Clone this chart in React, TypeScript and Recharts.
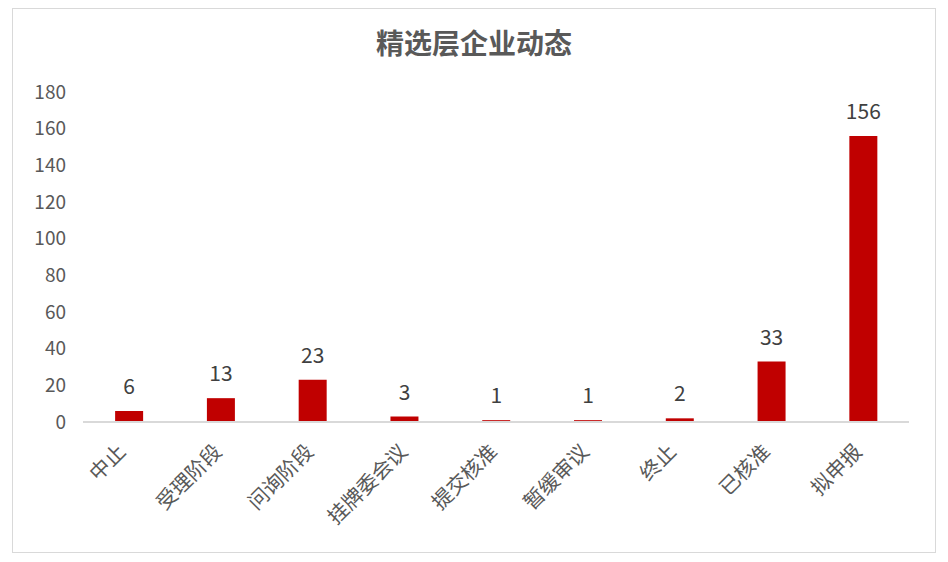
import React from 'react'
import { BarChart, Bar, XAxis, YAxis, LabelList } from 'recharts'

const categories = ['中止', '受理阶段', '问询阶段', '挂牌委会议', '提交核准', '暂缓审议', '终止', '已核准', '拟申报']
const counts = [6, 13, 23, 3, 1, 1, 2, 33, 156]
const yTicks = [0, 20, 40, 60, 80, 100, 120, 140, 160, 180]

const data = categories.map((name, i) => ({ name, value: counts[i] }))

const FONT = '"Microsoft YaHei", "Noto Sans CJK SC", sans-serif'

// longer labels sit a bit further right, like Excel's rotated labels
const CategoryTick = (props: any) => {
    const { x, y, payload } = props
    const n = String(payload.value).length
    const dx = -2 + (n - 2) * 2.2
    return (
        <g transform={`translate(${x + dx},${y + 23})`}>
            <text
                transform="rotate(-45)"
                textAnchor="end"
                fontSize={20.5}
                fill="#595959"
                fontFamily={FONT}
            >
                {payload.value}
            </text>
        </g>
    )
}

export default function App() {
    return (
        <div
            style={{
                position: 'absolute',
                left: 12,
                top: 8,
                width: 924,
                height: 545,
                border: '1px solid #d9d9d9',
                boxSizing: 'border-box',
                background: '#fff',
                fontFamily: FONT,
            }}
        >
            <div
                style={{
                    position: 'absolute',
                    top: 13,
                    width: '100%',
                    textAlign: 'center',
                    fontSize: 28,
                    fontWeight: 'bold',
                    color: '#595959',
                }}
            >
                精选层企业动态
            </div>
            <BarChart
                width={922}
                height={543}
                data={data}
                margin={{ top: 83, right: 26, left: 0, bottom: 0 }}
                barCategoryGap="35%"
            >
                <XAxis
                    dataKey="name"
                    height={130}
                    interval={0}
                    tickLine={false}
                    stroke="#d9d9d9"
                    strokeWidth={2}
                    tick={<CategoryTick />}
                />
                <YAxis
                    width={70}
                    domain={[0, 180]}
                    ticks={yTicks}
                    axisLine={false}
                    tickLine={false}
                    tickSize={0}
                    tickMargin={17}
                    tick={{ fontSize: 19, fill: '#595959', fontFamily: FONT }}
                />
                <Bar dataKey="value" fill="#c00000" isAnimationActive={false}>
                    <LabelList
                        dataKey="value"
                        position="top"
                        offset={17}
                        fontSize={21}
                        fill="#404040"
                        fontFamily={FONT}
                    />
                </Bar>
            </BarChart>
        </div>
    )
}
